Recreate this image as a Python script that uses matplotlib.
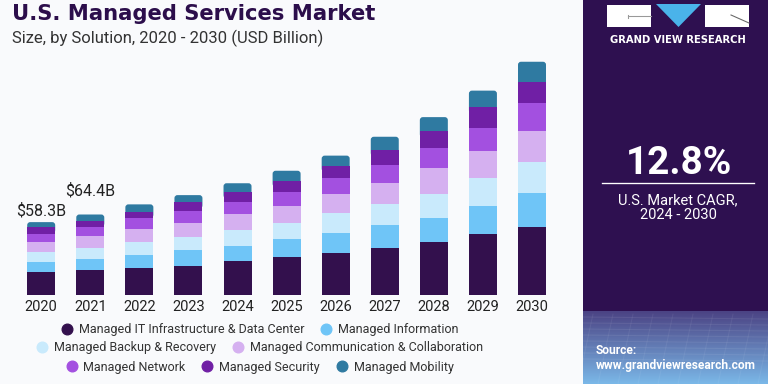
import matplotlib
matplotlib.use("Agg")
import matplotlib.pyplot as plt
import numpy as np
from matplotlib.patches import FancyBboxPatch, Rectangle, Polygon
from matplotlib.lines import Line2D

years = ["2020", "2021", "2022", "2023", "2024", "2025", "2026", "2027", "2028", "2029", "2030"]
series_names = [
    "Managed IT Infrastructure & Data Center",
    "Managed Information",
    "Managed Backup & Recovery",
    "Managed Communication & Collaboration",
    "Managed Network",
    "Managed Security",
    "Managed Mobility",
]
it_infra = [18.2, 19.8, 21.8, 23.4, 27.2, 30.6, 33.4, 37.8, 42.6, 48.6, 54.6]
information = [8.5, 9.3, 10.2, 12.6, 12.2, 13.9, 16.0, 18.2, 19.4, 22.9, 26.7]
backup = [8.0, 8.7, 10.6, 10.6, 12.6, 13.3, 16.0, 16.8, 19.0, 21.9, 24.8]
communication = [8.0, 9.2, 9.9, 11.2, 12.6, 13.4, 15.2, 17.0, 20.5, 22.1, 25.3]
network = [6.2, 7.2, 8.8, 9.6, 9.6, 11.4, 13.3, 14.2, 16.0, 18.4, 22.4]
security = [5.4, 5.4, 5.3, 6.7, 8.0, 8.8, 9.6, 12.0, 13.4, 16.3, 16.8]
mobility = [4.0, 4.8, 5.9, 5.8, 7.2, 8.0, 8.0, 10.6, 11.4, 13.3, 16.0]
annot_years = ["2020", "2021"]
annot_labels = ["$58.3B", "$64.4B"]

colors = ["#33104d", "#6fc5f7", "#c9eafc", "#d5b0f0", "#a350e0", "#701fa5", "#2f7aa1"]
series = [it_infra, information, backup, communication, network, security, mobility]

W, H = 768, 384
fig = plt.figure(figsize=(W / 96, H / 96), dpi=96)
fig.patch.set_facecolor("#f9fafc")

# main axes (pixel-mapped)
ax_left_px, ax_right_px = 0, 583
base_px = 295
top_px = 40
ax = fig.add_axes([ax_left_px / W, (H - base_px) / H, (ax_right_px - ax_left_px) / W, (base_px - top_px) / H])
ax.set_facecolor("none")
step = 49.08
x0 = 41.2
ax.set_xlim((ax_left_px - x0) / step, (ax_right_px - x0) / step)
ypp = 0.8
ax.set_ylim(0, (base_px - top_px) * ypp)
for s in ax.spines.values():
    s.set_visible(False)
ax.set_yticks([])

x = np.arange(len(years))
width = 28 / step
bottom = np.zeros(len(years))
for vals, c, name in zip(series, colors, series_names):
    bars = ax.bar(x, vals, width, bottom=bottom, color=c, zorder=2, linewidth=0)
    if name == "Managed Mobility":
        # round the top corners
        xpp = 1 / step
        for r in bars:
            ext = 6 * ypp
            fb = FancyBboxPatch((r.get_x(), r.get_y() - ext), r.get_width(), r.get_height() + ext,
                                boxstyle="round,pad=0,rounding_size=%f" % (3 * xpp),
                                mutation_aspect=ypp / xpp, facecolor=c, edgecolor="none", zorder=1.5)
            ax.add_patch(fb)
            r.set_visible(False)
    bottom += np.array(vals)

totals = bottom
label_offsets_px = [7, 19]
for yr, lab, off in zip(annot_years, annot_labels, label_offsets_px):
    i = years.index(yr)
    ax.text(x[i], totals[i] + off * ypp, lab, ha="center", va="baseline",
            fontsize=12, family="Roboto", color="#222222")

ax.set_xticks(x)
ax.set_xticklabels(years, fontsize=11, family="Roboto", color="#222222")
ax.tick_params(axis="x", length=0, pad=4)

# Title
fig.text(12 / W, (H - 20) / H, "U.S. Managed Services Market", fontsize=15.8, fontweight="bold",
         family="DejaVu Sans", color="#2c0e4b", va="baseline", ha="left")
fig.text(12 / W, (H - 43) / H, "Size, by Solution, 2020 - 2030 (USD Billion)", fontsize=12.5,
         family="Roboto", color="#333333", va="baseline", ha="left")

# Legend rows
rows = [[0, 1], [2, 3], [4, 5, 6]]
row_y = [330, 348, 367]
for row, yy in zip(rows, row_y):
    handles = [Line2D([], [], marker="o", linestyle="", markersize=8, color=colors[k]) for k in row]
    labels = [series_names[k] for k in row]
    leg = fig.legend(handles, labels, loc="center", bbox_to_anchor=(260 / W, (H - yy) / H),
                     ncol=len(row), frameon=False, handlelength=0.8, handletextpad=0.55,
                     columnspacing=1.35, borderpad=0, borderaxespad=0,
                     prop={"family": "Roboto", "size": 9.35})
    for t in leg.get_texts():
        t.set_color("#333333")

# Right panel
pax = fig.add_axes([583 / W, 0, (W - 583) / W, 1])
pax.set_xlim(583, W)
pax.set_ylim(H, 0)
pax.axis("off")
pax.add_patch(Rectangle((583, 0), W - 583, H, facecolor="#2e1050", edgecolor="none"))
# gradient at bottom
g_top = 311
grad = np.linspace(0, 1, 100)[:, None]
c1 = np.array([0x4b, 0x43, 0x84]) / 255
c2 = np.array([0x7b, 0xb8, 0xe8]) / 255
img = c1[None, None, :] * (1 - grad[:, :, None]) + c2[None, None, :] * grad[:, :, None]
img = np.repeat(img, 2, axis=1)
pax.imshow(img, extent=(583, W, H, g_top), aspect="auto", zorder=1)
# faint grid lines
for k in range(8):
    yy = g_top + 6 + k * 6
    pax.plot([583, W], [yy, yy + 2], color="white", alpha=0.07, lw=0.8, zorder=2)
for k in range(10):
    xx = 583 + k * 20
    pax.plot([xx + 10, xx - 5], [g_top + 3, H], color="white", alpha=0.06, lw=0.8, zorder=2)

# logo
pax.add_patch(Rectangle((607, 5), 44, 22, facecolor="white", edgecolor="none", zorder=3))
pax.add_patch(Rectangle((705, 5), 44, 22, facecolor="white", edgecolor="none", zorder=3))
pax.add_patch(Polygon([[656, 4], [701, 4], [678.5, 27]], closed=True, facecolor="#4ab3ea", edgecolor="none", zorder=3))
pax.plot([628, 651], [16, 16], color="#999999", lw=0.8, zorder=4)
pax.plot([628, 628], [15, 18], color="#999999", lw=0.8, zorder=4)
pax.plot([731, 749], [15, 23], color="#666666", lw=0.8, zorder=4)
pax.text(678, 40, "GRAND VIEW RESEARCH", color="white", fontsize=7.5, fontweight="bold",
         family="DejaVu Sans", ha="center", va="center", zorder=4)

pax.text(679, 163, "12.8%", color="white", fontsize=29, fontweight="bold", family="Roboto",
         ha="center", va="center", zorder=4)
pax.plot([602, 754], [183, 183], color="white", lw=1, zorder=4)
pax.text(678, 200, "U.S. Market CAGR,", color="white", fontsize=11, family="Roboto",
         ha="center", va="center", zorder=4)
pax.text(678, 215, "2024 - 2030", color="white", fontsize=11, family="Roboto",
         ha="center", va="center", zorder=4)
pax.text(596, 351, "Source:", color="white", fontsize=9, fontweight="bold", family="Roboto",
         ha="left", va="center", zorder=4)
pax.text(596, 366, "www.grandviewresearch.com", color="white", fontsize=9, fontweight="bold",
         family="Roboto", ha="left", va="center", zorder=4)

fig.savefig("out.png", dpi=96, facecolor=fig.get_facecolor())
